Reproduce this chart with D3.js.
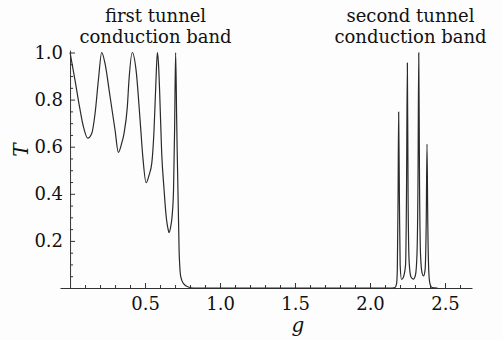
<!DOCTYPE html>
<html>
<head>
<meta charset="utf-8">
<script src="https://cdn.jsdelivr.net/npm/d3@7"></script>
<style>
  body { margin: 0; background: #fdfdfd; }
  svg { display: block; }
  text { font-family: "DejaVu Serif", serif; fill: #111; }
</style>
</head>
<body>
<svg></svg>
<script>
// transmission curve
var gVals = [0, 0.033, 0.067, 0.089, 0.118, 0.145, 0.167, 0.189, 0.211,
    0.233, 0.267, 0.3, 0.322, 0.344, 0.36, 0.382, 0.393, 0.415,
    0.44, 0.467, 0.487, 0.507, 0.527, 0.545, 0.56, 0.573, 0.582,
    0.589, 0.597, 0.611, 0.627, 0.64, 0.655, 0.66, 0.671, 0.682, 0.69, 0.697, 0.704,
    0.711, 0.727, 0.738, 0.755, 0.789, 0.822,
    2.147, 2.167, 2.177, 2.182, 2.187, 2.191, 2.196, 2.201, 2.21,
    2.223, 2.237, 2.243, 2.249, 2.254, 2.261, 2.273, 2.289,
    2.303, 2.313, 2.32, 2.325, 2.33, 2.337, 2.347, 2.357,
    2.367, 2.375, 2.38, 2.385, 2.392, 2.4, 2.413, 2.45]
var tVals = [1.0, 0.883, 0.756, 0.685, 0.636, 0.657, 0.742, 0.883, 1.0,
    0.954, 0.812, 0.671, 0.576, 0.614, 0.657, 0.77, 0.883, 1.0,
    0.926, 0.713, 0.544, 0.447, 0.48, 0.53, 0.671, 0.883, 1.0,
    0.961, 0.841, 0.573, 0.416, 0.31, 0.246, 0.235, 0.26, 0.317, 0.416, 0.671, 1.0,
    0.713, 0.161, 0.048, 0.02, 0.004, 0,
    0, 0.002, 0.017, 0.076, 0.374, 0.747, 0.374, 0.098, 0.036,
    0.047, 0.098, 0.374, 0.955, 0.374, 0.11, 0.047, 0.038,
    0.055, 0.14, 0.459, 0.999, 0.459, 0.14, 0.064, 0.051,
    0.076, 0.289, 0.611, 0.289, 0.068, 0.017, 0.002, 0]

var xMajor = [0.5, 1.0, 1.5, 2.0, 2.5]
var yMajor = [0.2, 0.4, 0.6, 0.8, 1.0]
var xMinor = [0.1, 0.2, 0.3, 0.4, 0.6, 0.7, 0.8, 0.9, 1.1, 1.2, 1.3, 1.4, 1.6, 1.7, 1.8, 1.9,
    2.1, 2.2, 2.3, 2.4, 2.6]
var yMinor = [0.05, 0.1, 0.15, 0.25, 0.3, 0.35, 0.45, 0.5, 0.55, 0.65, 0.7, 0.75, 0.85, 0.9, 0.95]
var bandLabels = [['first tunnel', 'conduction band'], ['second tunnel', 'conduction band']]
var bandLabelG = [0.57, 2.27]

var W = 503, H = 340
var svg = d3.select('svg').attr('width', W).attr('height', H)

var x = d3.scaleLinear().domain([-0.067, 2.68]).range([60, 472])
var y = d3.scaleLinear().domain([0, 1]).range([288, 52.5])

var axisColor = '#333'

// x axis: major + minor ticks pointing up
var gx = svg.append('g').attr('transform', 'translate(0,' + y(0) + ')')
gx.call(d3.axisBottom(x).tickValues(xMajor).tickSizeInner(-5).tickSizeOuter(0)
    .tickPadding(8).tickFormat(d3.format('.1f')))
gx.append('g').call(d3.axisBottom(x).tickValues(xMinor).tickSizeInner(-3).tickSizeOuter(0).tickFormat(''))
    .select('.domain').remove()

// y axis sits at g = 0
var gy = svg.append('g').attr('transform', 'translate(' + x(0) + ',0)')
gy.call(d3.axisLeft(y.copy().domain([0, 1.01]).range([288, 50.2])).tickValues([]).tickSizeOuter(0))
gy.append('g').call(d3.axisLeft(y).tickValues(yMajor).tickSizeInner(-5).tickSizeOuter(0)
    .tickPadding(7).tickFormat(d3.format('.1f')))
    .select('.domain').remove()
gy.append('g').call(d3.axisLeft(y).tickValues(yMinor).tickSizeInner(-3).tickSizeOuter(0).tickFormat(''))
    .select('.domain').remove()

svg.selectAll('.domain, .tick line').attr('stroke', axisColor).attr('stroke-width', 1)
svg.selectAll('.tick text').attr('font-family', '"DejaVu Serif", serif').attr('font-size', 18).attr('fill', '#111')
gx.selectAll('.tick text').attr('dy', '0.75em')

// curve
var pts = gVals.map(function(g, i) { return [g, tVals[i]] })
var line = d3.line()
    .x(function(d) { return x(d[0]) })
    .y(function(d) { return y(d[1]) })
    .curve(d3.curveMonotoneX)
svg.append('path')
    .datum(pts)
    .attr('d', line)
    .attr('fill', 'none')
    .attr('stroke', '#2a2a2a')
    .attr('stroke-width', 1.2)

// band annotations
bandLabels.forEach(function(lines, i) {
    var t = svg.append('text')
        .attr('text-anchor', 'middle')
        .attr('font-size', 18)
    lines.forEach(function(s, j) {
        t.append('tspan')
            .attr('x', x(bandLabelG[i]))
            .attr('y', 21.5 + j * 21.5)
            .text(s)
    })
})

// axis titles
svg.append('text')
    .attr('x', x(1.52))
    .attr('y', 332)
    .attr('text-anchor', 'middle')
    .attr('font-size', 20)
    .attr('font-style', 'italic')
    .text('g')
svg.append('text')
    .attr('transform', 'translate(28,150) rotate(-90)')
    .attr('text-anchor', 'middle')
    .attr('font-size', 20)
    .attr('font-style', 'italic')
    .text('T')
</script>
</body>
</html>
